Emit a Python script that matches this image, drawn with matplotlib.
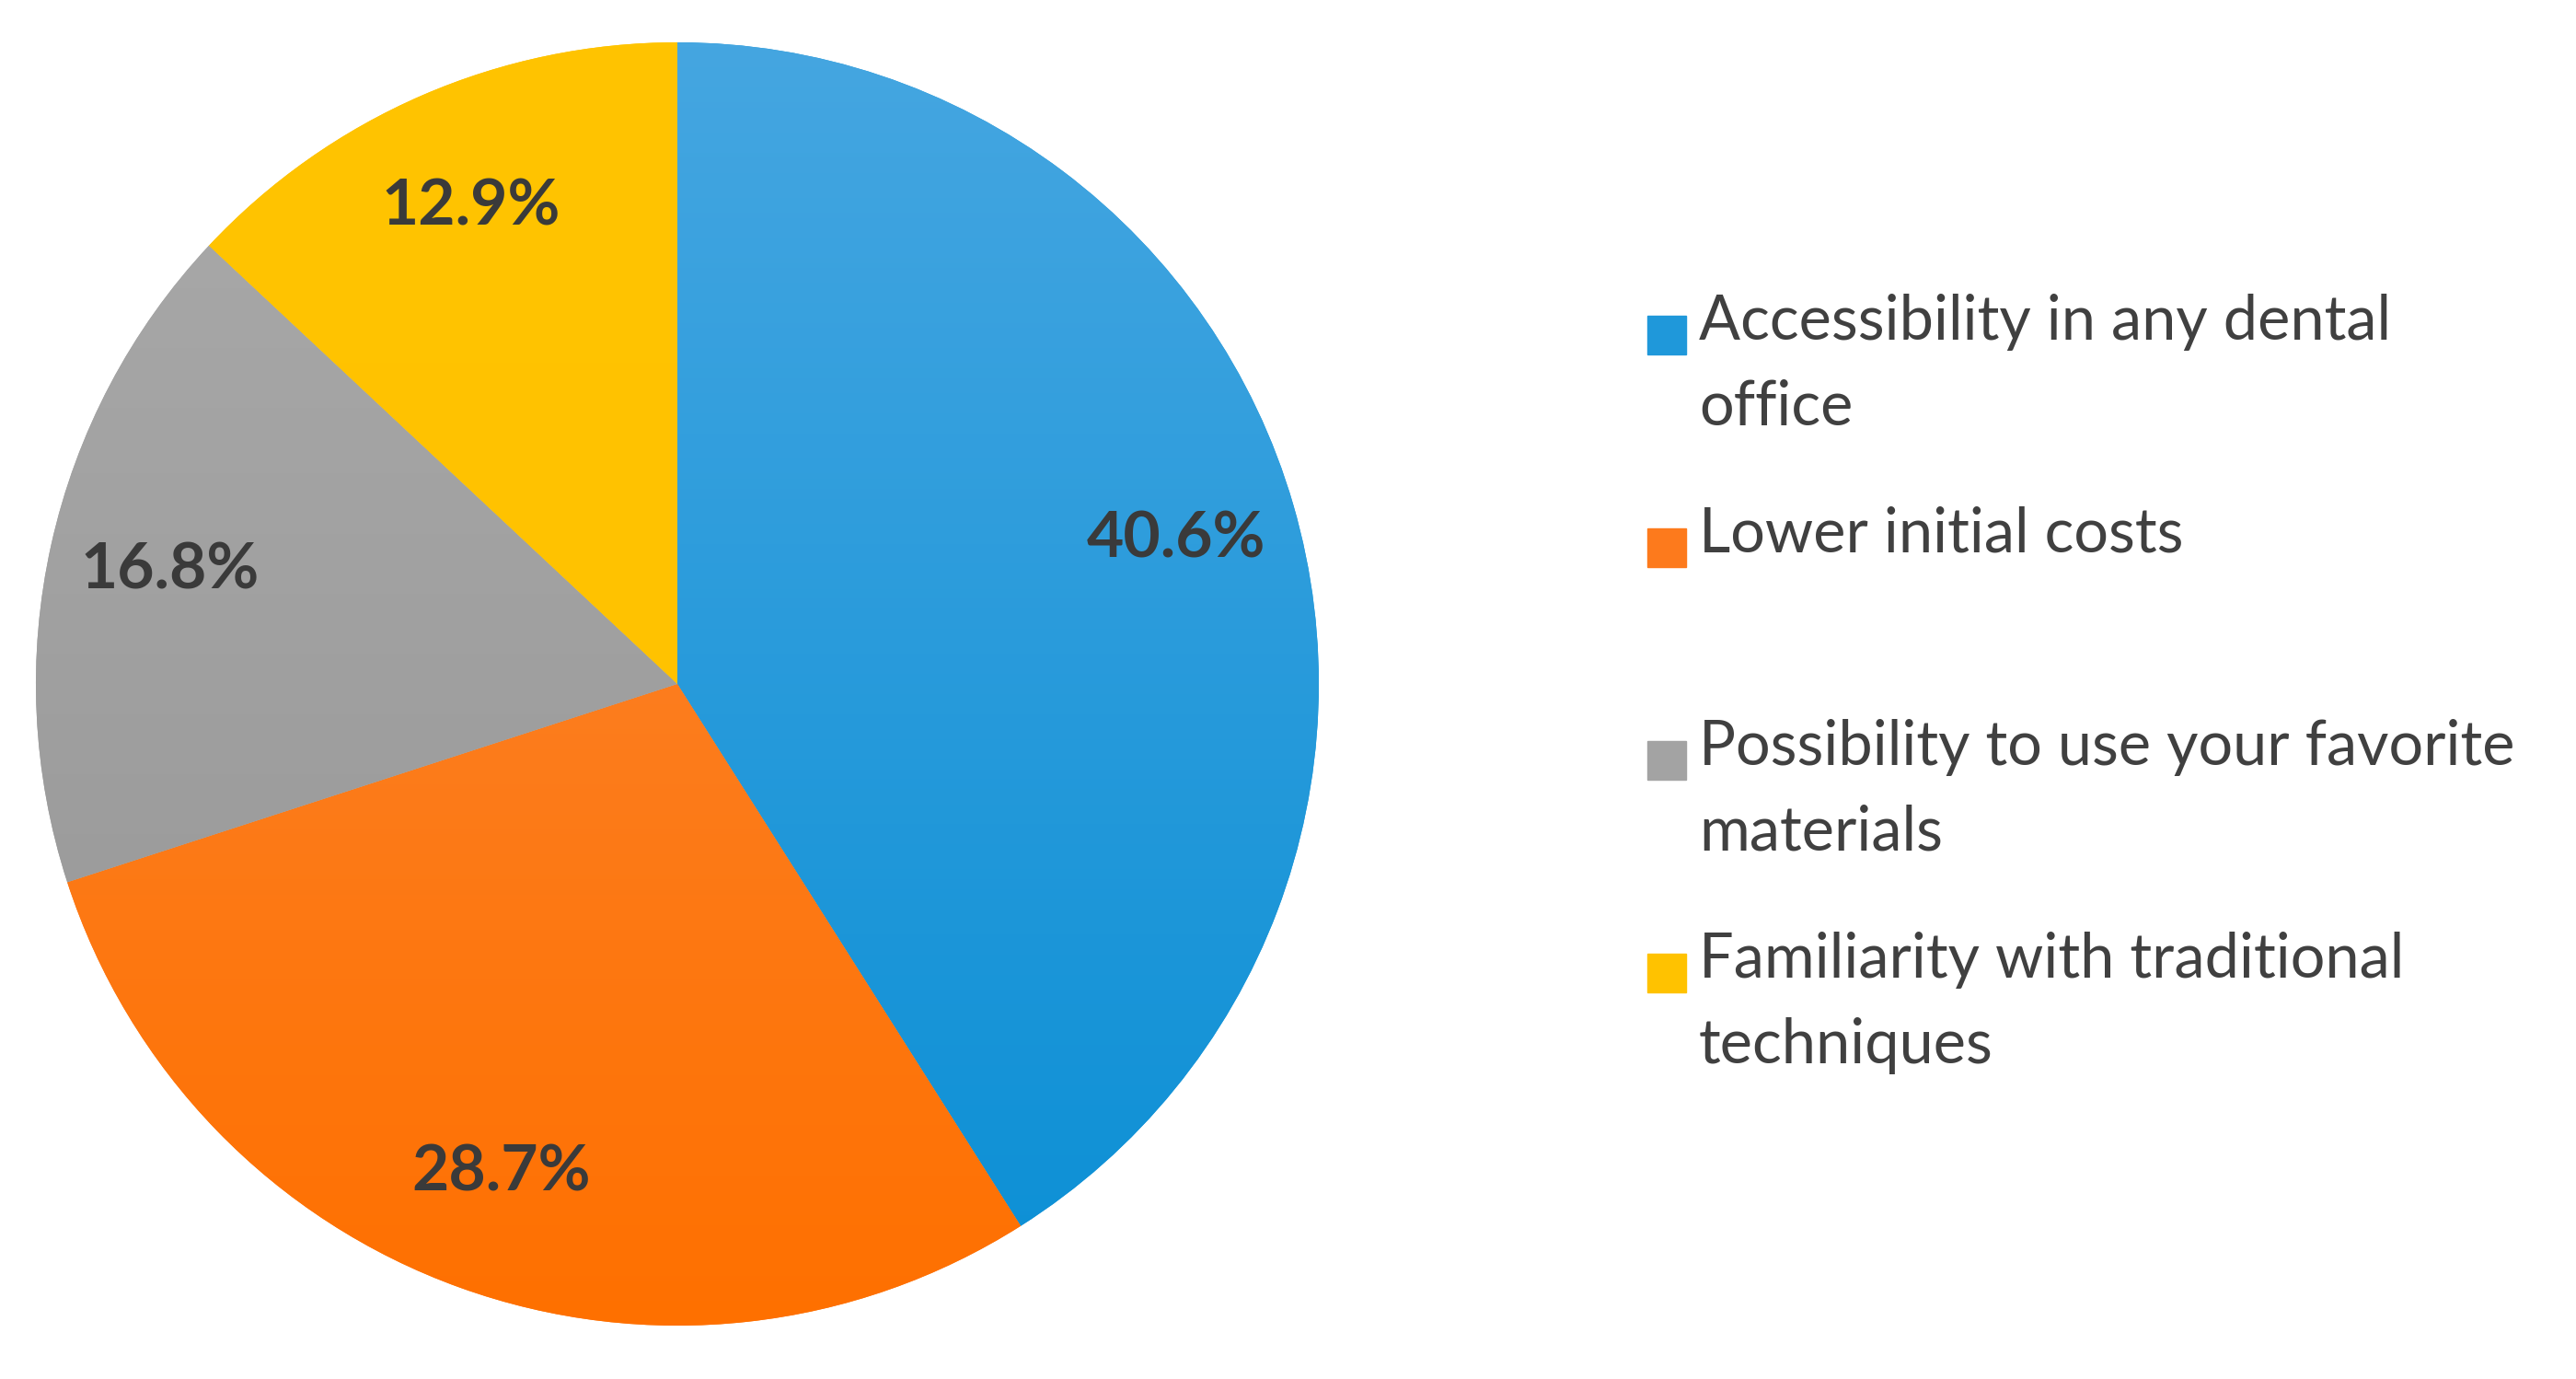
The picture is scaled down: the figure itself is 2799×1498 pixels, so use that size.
import numpy as np
import matplotlib.pyplot as plt
from matplotlib.colors import LinearSegmentedColormap
from matplotlib.patches import Rectangle

# data
labels = ['Accessibility in any dental\noffice',
          'Lower initial costs',
          'Possibility to use your favorite\nmaterials',
          'Familiarity with traditional\ntechniques']
values = [40.6, 28.7, 16.8, 12.9]
top_colors = ['#45a6e1', '#f98a3c', '#aaaaaa', '#ffc400']
bot_colors = ['#0a8fd5', '#ff7000', '#959595', '#ffc000']
flat_colors = ['#1f98da', '#fd7a1c', '#a3a3a3', '#ffc200']

W, H = 2799, 1498
fig = plt.figure(figsize=(W / 100, H / 100), dpi=100)

# pie axes: centre (736, 743) px, radius 697 px
cx, cy, r = 736, 743, 697
ax = fig.add_axes([(cx - r) / W, (H - cy - r) / H, 2 * r / W, 2 * r / H])
wedges, _, autotexts = ax.pie(values, colors=flat_colors, startangle=90,
                              counterclock=False, radius=1,
                              autopct='%1.1f%%', pctdistance=0.81,
                              wedgeprops=dict(linewidth=0))
ax.set_xlim(-1, 1)
ax.set_ylim(-1, 1)
ax.set_aspect('equal')
ax.axis('off')

# vertical gradient fill inside each wedge
grad = np.linspace(0, 1, 256).reshape(-1, 1)
for w, c0, c1 in zip(wedges, top_colors, bot_colors):
    cmap = LinearSegmentedColormap.from_list('g', [c0, c1])
    im = ax.imshow(grad, cmap=cmap, extent=[-1, 1, -1, 1], origin='upper',
                   aspect='auto', zorder=w.get_zorder() + 0.1)
    im.set_clip_path(w)

for t, v in zip(autotexts, values):
    t.set_text(f'{v:.1f}%')
    t.set_fontsize(50)
    t.set_fontfamily('Lato')
    t.set_fontweight('bold')
    t.set_color('#3a3a3a')
    t.set_zorder(5)

# legend drawn by hand, entries on a fixed pitch
y0, pitch, sq = 343, 231, 42
for i, (lab, c) in enumerate(zip(labels, flat_colors)):
    yc = y0 + i * pitch
    fig.patches.append(Rectangle((1790 / W, 1 - (yc + 42) / H), sq / W, sq / H,
                                 transform=fig.transFigure, color=c))
    fig.text(1846 / W, 1 - (yc - 24) / H, lab, fontsize=48, family='Lato',
             color='#404040', va='top', ha='left', linespacing=1.62)

fig.savefig('out.png', dpi=100, facecolor='white')
